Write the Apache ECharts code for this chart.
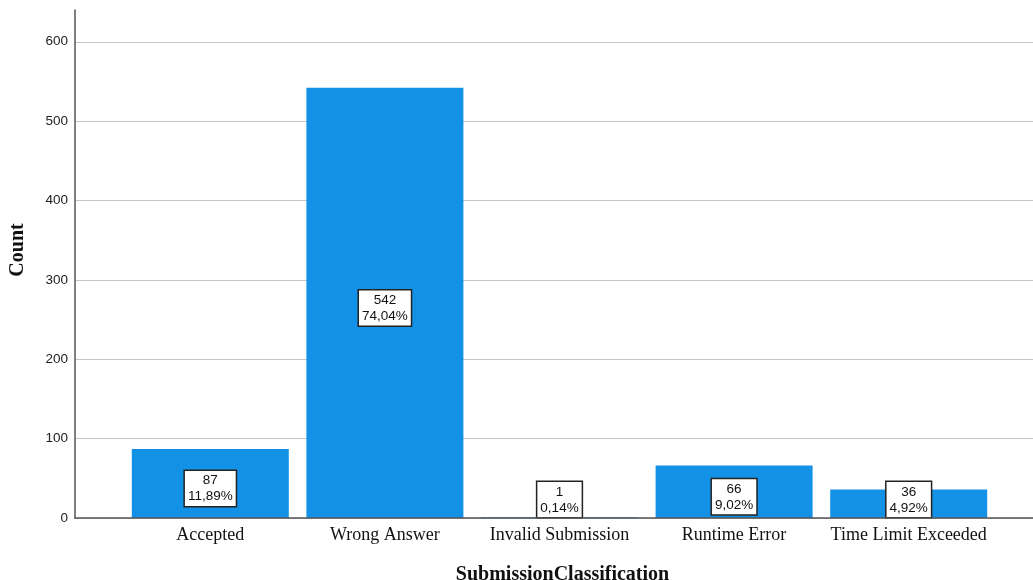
<!DOCTYPE html>
<html>
<head>
<meta charset="utf-8">
<title>SubmissionClassification</title>
<script src="https://cdn.jsdelivr.net/npm/echarts@6/dist/echarts.min.js"></script>
<style>
  html, body { margin: 0; padding: 0; background: #ffffff; }
  #chart { width: 1033px; height: 580px; }
</style>
</head>
<body>
<div id="chart"></div>
<script>
// Submission outcomes and how many submissions fell in each
const categories = ['Accepted', 'Wrong Answer', 'Invalid Submission', 'Runtime Error', 'Time Limit Exceeded'];
const counts = [87, 542, 1, 66, 36];
const yTicks = [0, 100, 200, 300, 400, 500, 600];

const total = counts.reduce((a, b) => a + b, 0);
const yStep = yTicks[1] - yTicks[0];
const yMax = 640;              // value axis runs a little past the last tick
const serif = 'Liberation Serif, Times New Roman, serif';
const sans = 'Liberation Sans, Arial, sans-serif';
const axisGrey = '#555555';

// Percent text uses a decimal comma, two decimals
function pct(v) {
  return (v / total * 100).toFixed(2).replace('.', ',') + '%';
}

// Short bars cannot hold the value box, so it sits on the baseline instead
const smallBar = 58;
const barData = counts.map(v => ({
  value: v,
  label: v < smallBar
    ? { position: 'insideBottom', distance: 1, offset: [0, 0] }
    : { position: 'inside', offset: [0, 5] }
}));

const chart = echarts.init(document.getElementById('chart'), null, { renderer: 'canvas' });

chart.setOption({
  backgroundColor: '#ffffff',
  animation: false,
  grid: [
    // frame: axis lines and horizontal guide lines across the full width
    { left: 75, right: 0, top: 10, bottom: 62, containLabel: false, outerBoundsMode: 'none' },
    // bars
    { left: 123, right: 37, top: 10, bottom: 62, containLabel: false, outerBoundsMode: 'none' }
  ],
  xAxis: [
    {
      gridIndex: 0, type: 'value', min: 0, max: 1, z: 3,
      axisLine: { show: true, lineStyle: { color: axisGrey, width: 1.5 } },
      axisTick: { show: false }, axisLabel: { show: false }, splitLine: { show: false }
    },
    {
      gridIndex: 1, type: 'category', data: categories,
      axisLine: { show: false }, axisTick: { show: false },
      axisLabel: { color: '#111111', fontFamily: serif, fontSize: 18, margin: 8, interval: 0 },
      name: 'SubmissionClassification', nameLocation: 'middle', nameGap: 47,
      nameTextStyle: { color: '#111111', fontFamily: serif, fontSize: 20, fontWeight: 'bold', padding: [0, 0, 0, 6] }
    }
  ],
  yAxis: [
    {
      gridIndex: 0, type: 'value', min: 0, max: yMax, interval: yStep,
      axisLine: { show: true, lineStyle: { color: axisGrey, width: 1.5 } },
      axisTick: { show: false },
      axisLabel: {
        color: '#222222', fontFamily: sans, fontSize: 13.5, margin: 7,
        showMaxLabel: false,
        formatter: v => (yTicks.indexOf(v) >= 0 ? String(v) : '')
      },
      splitLine: { show: true, showMinLine: true, showMaxLine: false, lineStyle: { color: '#c4c4c4', width: 1.2 } },
      name: 'Count', nameLocation: 'middle', nameGap: 47, nameRotate: 90,
      nameTextStyle: { color: '#111111', fontFamily: serif, fontSize: 20, fontWeight: 'bold', padding: [0, 0, 0, 28] }
    },
    {
      gridIndex: 1, type: 'value', min: 0, max: yMax, interval: yStep,
      axisLine: { show: false }, axisTick: { show: false }, axisLabel: { show: false }, splitLine: { show: false }
    }
  ],
  series: [
    {
      type: 'bar',
      xAxisIndex: 1, yAxisIndex: 1,
      data: barData,
      barWidth: 157,
      itemStyle: { color: '#1391e6' },
      label: {
        show: true,
        formatter: p => p.value + '\n' + pct(p.value),
        color: '#111111',
        fontFamily: sans,
        fontSize: 13.5,
        lineHeight: 16,
        align: 'center',
        backgroundColor: '#ffffff',
        borderColor: '#222222',
        borderWidth: 1.5,
        padding: [2, 3, 1, 3]
      },
      emphasis: { disabled: true }
    }
  ]
});
</script>
</body>
</html>
